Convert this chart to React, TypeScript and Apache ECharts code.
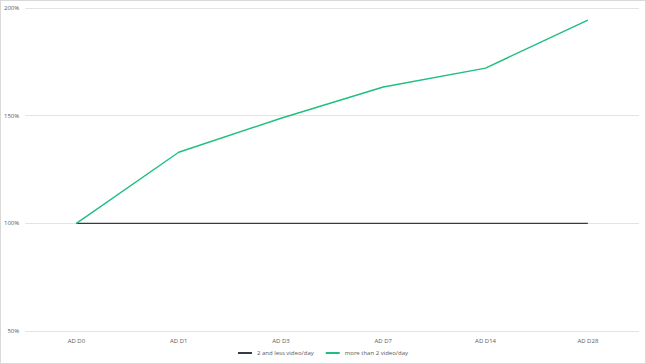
import React, { useEffect, useRef } from "react";
import * as echarts from "echarts";

const categories = ["AD D0", "AD D1", "AD D3", "AD D7", "AD D14", "AD D28"];
const lessSeries = [100, 100, 100, 100, 100, 100];
const moreSeries = [100, 133, 148.8, 163.3, 172.1, 194.4];
const seriesNames = ["2 and less video/day", "more than 2 video/day"];

export default function App() {
  const ref = useRef<HTMLDivElement>(null);
  useEffect(() => {
    document.body.style.margin = "0";
    const chart = echarts.init(ref.current!, null, { renderer: "svg" });
    const font = "Open Sans, Liberation Sans, sans-serif";
    chart.setOption({
      animation: false,
      backgroundColor: "#ffffff",
      grid: { left: 24, right: 6, top: 7, bottom: 32, containLabel: false },
      legend: {
        bottom: 2,
        left: "center",
        itemWidth: 14,
        itemHeight: 2,
        itemGap: 12,
        icon: "rect",
        textStyle: { fontSize: 6, color: "#595959", fontFamily: font },
        data: seriesNames,
      },
      xAxis: {
        type: "category",
        data: categories,
        boundaryGap: true,
        axisLine: { show: false },
        axisTick: { show: false },
        axisLabel: { fontSize: 6, color: "#595959", fontFamily: font, margin: 7 },
      },
      yAxis: {
        type: "value",
        min: 50,
        max: 200,
        interval: 50,
        axisLine: { show: false },
        axisTick: { show: false },
        splitLine: { lineStyle: { color: "#e3e3e3", width: 1 } },
        axisLabel: {
          fontSize: 6,
          color: "#595959",
          fontFamily: font,
          margin: 6,
          formatter: (v: number) => v + "%",
        },
      },
      series: [
        {
          name: seriesNames[0],
          type: "line",
          data: lessSeries,
          symbol: "none",
          lineStyle: { color: "#333a4a", width: 1.2 },
          itemStyle: { color: "#333a4a" },
        },
        {
          name: seriesNames[1],
          type: "line",
          data: moreSeries,
          symbol: "none",
          lineStyle: { color: "#1fbf7f", width: 1.4 },
          itemStyle: { color: "#1fbf7f" },
        },
      ],
    });
    return () => chart.dispose();
  }, []);
  return (
    <div
      style={{
        position: "absolute",
        left: 0,
        top: 0,
        width: 646,
        height: 364,
        border: "1px solid #d9d9d9",
        boxSizing: "border-box",
        background: "#fff",
      }}
    >
      <div ref={ref} style={{ width: 644, height: 362 }} />
    </div>
  );
}
